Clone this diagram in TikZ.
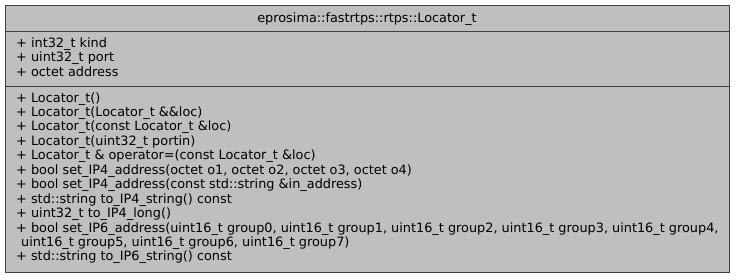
\documentclass[tikz,border=0pt]{standalone}
\usepackage{fontspec}
\setmainfont{DejaVu Sans}
\definecolor{boxfill}{RGB}{191,191,191}
\definecolor{boxline}{RGB}{64,64,64}
\begin{document}
\begin{tikzpicture}[x=1pt,y=-1pt,
  compartment/.style={draw=boxline,fill=boxfill,line width=1.2pt,inner sep=0pt,anchor=north west},
  member/.style={anchor=base west,inner sep=0pt,font=\fontsize{12.85}{14.45}\selectfont},
  titletext/.style={anchor=base,inner sep=0pt,font=\fontsize{12.85}{14.45}\selectfont}]
\useasboundingbox (0,0) rectangle (736,279);
% class compartments: name, attributes, operations
\node[compartment,minimum width=724pt,minimum height=26pt] (head) at (5,5) {};
\node[compartment,minimum width=724pt,minimum height=55pt] (attrs) at (5,31) {};
\node[compartment,minimum width=724pt,minimum height=186pt] (ops) at (5,86) {};
\node[titletext] (name) at (367,22) {eprosima::fastrtps::rtps::Locator\_t};
% attributes
\foreach \txt [count=\i] in {{+ int32\_t kind},{+ uint32\_t port},{+ octet address}}
  \node[member] (a\i) at (16,{47+14.5*(\i-1)}) {\txt};
% operations (row index / text; row 11 is the wrapped continuation below)
\foreach \r/\txt in {
  0/{+ Locator\_t()},
  1/{+ Locator\_t(Locator\_t \&\&loc)},
  2/{+ Locator\_t(const Locator\_t \&loc)},
  3/{+ Locator\_t(uint32\_t portin)},
  4/{+ Locator\_t \& operator=(const Locator\_t \&loc)},
  5/{+ bool set\_IP4\_address(octet o1, octet o2, octet o3, octet o4)},
  6/{+ bool set\_IP4\_address(const std::string \&in\_address)},
  7/{+ std::string to\_IP4\_string() const},
  8/{+ uint32\_t to\_IP4\_long()},
  9/{+ bool set\_IP6\_address(uint16\_t group0, uint16\_t group1, uint16\_t group2, uint16\_t group3, uint16\_t group4,},
  11/{+ std::string to\_IP6\_string() const}}
  \node[member] (m\r) at (16,{102+14.45*\r}) {\txt};
\node[member] (m10) at (21,{102+14.45*10}) {uint16\_t group5, uint16\_t group6, uint16\_t group7)};
\end{tikzpicture}
\end{document}
